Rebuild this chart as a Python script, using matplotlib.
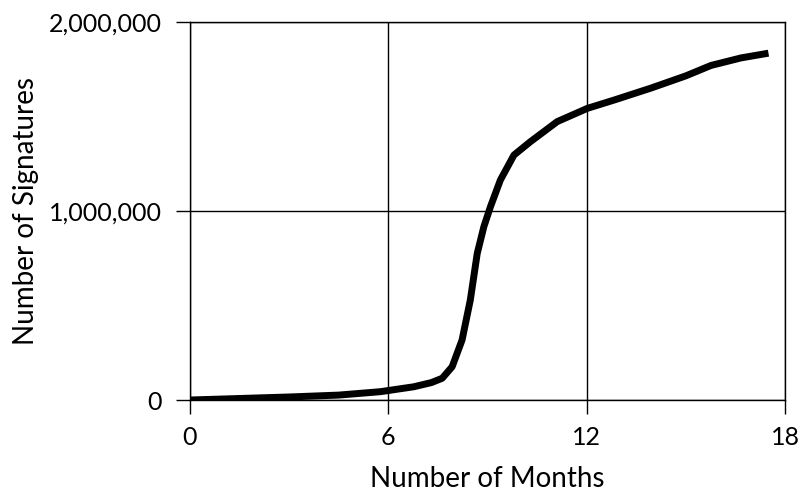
import matplotlib.pyplot as plt
from matplotlib.ticker import FuncFormatter

# signatures (months, count)
months = [0, 1.5, 3.0, 4.5, 5.76, 6.77, 7.3, 7.63, 7.93, 8.23, 8.48, 8.69, 8.89,
          9.09, 9.39, 9.80, 10.30, 11.11, 12.02, 12.83, 13.94, 15.0, 15.76,
          16.67, 17.5]
signatures = [0, 8000, 16000, 26000, 44000, 70000, 92000, 115000, 176000,
              317000, 529000, 776000, 917000, 1023000, 1164000, 1296000,
              1367000, 1473000, 1543000, 1587000, 1650000, 1715000, 1770000,
              1810000, 1835000]

xticks = [0, 6, 12, 18]
yticks = [0, 1000000, 2000000]

plt.rcParams['font.family'] = ['Lato', 'DejaVu Sans']

fig = plt.figure(figsize=(8.03, 4.93), dpi=100)
ax = fig.add_axes([190 / 803, 93 / 493, 595 / 803, 378 / 493])

ax.plot(months, signatures, color='black', lw=5, solid_capstyle='butt',
        solid_joinstyle='round')

ax.set_xlim(0, 18)
ax.set_ylim(0, 2000000)
ax.set_xticks(xticks)
ax.set_yticks(yticks)
ax.yaxis.set_major_formatter(FuncFormatter(lambda v, p: f'{int(v):,}'))
ax.grid(True, color='black', lw=1)
ax.set_axisbelow(True)
for s in ax.spines.values():
    s.set_color('black')
    s.set_linewidth(1)
ax.tick_params(direction='out', length=10, width=1, labelsize=18)
ax.tick_params(axis='y', pad=10)
ax.tick_params(axis='x', pad=9)

ax.set_xlabel('Number of Months', fontsize=20, labelpad=12)
ax.set_ylabel('Number of Signatures', fontsize=20, labelpad=7)

fig.savefig('out.png', dpi=100)
